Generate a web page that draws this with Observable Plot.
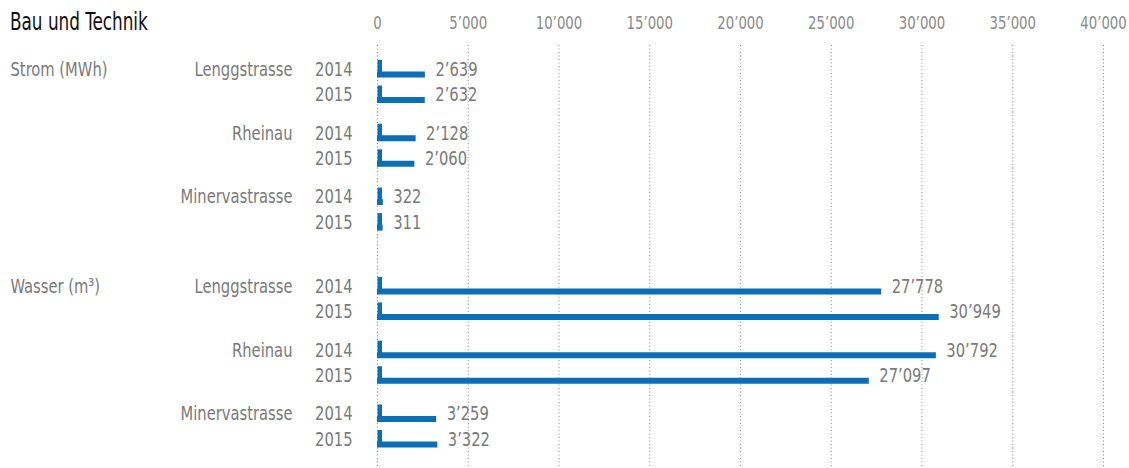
<!DOCTYPE html>
<html>
<head>
<meta charset="utf-8">
<script src="https://cdn.jsdelivr.net/npm/d3@7"></script>
<script src="https://cdn.jsdelivr.net/npm/@observablehq/plot@0.6"></script>
<style>
  html, body { margin: 0; padding: 0; background: #fff; }
  #wrap { position: relative; width: 1129px; height: 468px; }
  #wrap svg { display: block; }
  #title { position: absolute; left: 10px; top: 8px; font-family: "DejaVu Sans Condensed", "DejaVu Sans", sans-serif; font-stretch: condensed; font-size: 24px; color: #111; transform: scaleX(0.78); transform-origin: 0 0; white-space: nowrap; }
</style>
</head>
<body>
<div id="wrap"><div id="title">Bau und Technik</div></div>
<script>
const title = "Bau und Technik";
const categories = ["Strom (MWh)", "Wasser (m³)"];
const sites = ["Lenggstrasse", "Rheinau", "Minervastrasse"];
const years = ["2014", "2015"];
const stromValues = [2639, 2632, 2128, 2060, 322, 311];
const wasserValues = [27778, 30949, 30792, 27097, 3259, 3322];
const xTicks = [0, 5000, 10000, 15000, 20000, 25000, 30000, 35000, 40000];

const seriesValues = [stromValues, wasserValues];
const rows = [];
const domain = [];
let g = 0;
categories.forEach((cat, ci) => {
  if (ci > 0) for (let k = 0; k < 4; k++) domain.push("gap" + (g++));
  sites.forEach((site, si) => {
    if (si > 0) for (let k = 0; k < 2; k++) domain.push("gap" + (g++));
    years.forEach((year, yi) => {
      if (yi > 0) domain.push("gap" + (g++));
      const key = cat + "|" + site + "|" + year;
      domain.push(key);
      rows.push({
        key, cat, site, year,
        value: seriesValues[ci][si * 2 + yi],
        catLabel: (si === 0 && yi === 0) ? cat : "",
        siteLabel: yi === 0 ? site : ""
      });
    });
  });
});

const fmt = v => d3.format(",")(v).replace(/,/g, "’");
const blue = "#0b6fb8";
const grey = "#7a7a7a";
const FONT = '"DejaVu Sans Condensed", "DejaVu Sans", sans-serif';

const chart = Plot.plot({
  width: 1129,
  height: 468,
  marginLeft: 377,
  marginRight: 26,
  marginTop: 45,
  marginBottom: 0,
  style: { fontFamily: FONT, fontSize: "20px", fontStretch: "condensed", background: "#fff", overflow: "visible" },
  x: { domain: [0, 40000] },
  y: { type: "point", domain, range: [69, 439], padding: 0, round: false, axis: null },
  marks: [
    Plot.ruleX(xTicks, { stroke: "#8a8a8a", strokeDasharray: "1,2.5", strokeWidth: 1 }),
    Plot.axisX(xTicks, { anchor: "top", tickSize: 0, tickPadding: 17, tickFormat: fmt, fontSize: 18, fill: "#8a8a8a", label: null }),
    Plot.ruleY(rows, { y: "key", x1: 0, x2: "value", stroke: blue, strokeWidth: 6, dy: 5 }),
    Plot.ruleX(rows, { x: 0, y1: "key", y2: "key", insetTop: -9, insetBottom: -8, stroke: blue, strokeWidth: 4.5, dx: 2.25 }),
    Plot.text(rows, { x: "value", y: "key", text: d => fmt(d.value), textAnchor: "start", dx: 10, fill: grey }),
    Plot.text(rows, { x: 0, y: "key", text: "year", textAnchor: "end", dx: -25, fill: grey }),
    Plot.text(rows, { x: 0, y: "key", text: "siteLabel", textAnchor: "end", dx: -85, fill: grey }),
    Plot.text(rows, { x: 0, y: "key", text: "catLabel", textAnchor: "start", dx: -367, fill: grey })
  ]
});
// narrow the glyphs horizontally around each text's own anchor point
chart.querySelectorAll("text").forEach(t => {
  const tr = t.getAttribute("transform") || "";
  t.setAttribute("transform", tr + " scale(0.82,1)");
});
document.getElementById("wrap").appendChild(chart);
</script>
</body>
</html>
